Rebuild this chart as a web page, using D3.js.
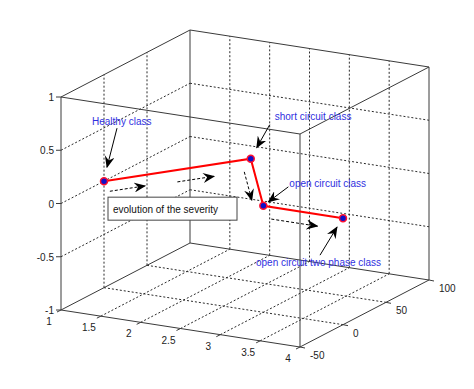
<!DOCTYPE html>
<html>
<head>
<meta charset="utf-8">
<script src="https://cdn.jsdelivr.net/npm/d3@7"></script>
<style>
  body { margin: 0; background: #fff; }
  svg { display: block; font-family: "Liberation Sans", Arial, sans-serif; }
</style>
</head>
<body>
<div id="chart"></div>
<script>
// class centres in the 3-D feature space
const classNames = ["Healthy class", "short circuit class", "open circuit class", "open circuit two phase class"];
const xVals = [1, 2, 3, 4];
const yVals = [0, 78, 0, 0];
const zVals = [0, 0, 0, 0];

const xTicks = [1, 1.5, 2, 2.5, 3, 3.5, 4];
const yTicks = [-50, 0, 50, 100];
const zTicks = [-1, -0.5, 0, 0.5, 1];
const xTickLabels = ["1", "1.5", "2", "2.5", "3", "3.5", "4"];
const yTickLabels = ["-50", "0", "50", "100"];
const zTickLabels = ["-1", "-0.5", "0", "0.5", "1"];

const boxText = "evolution of the severity";

const W = 474, H = 389;

// axis scales -> screen vectors of the projected box
const xs = d3.scaleLinear().domain([1, 4]).range([0, 1]);
const ys = d3.scaleLinear().domain([-50, 100]).range([0, 1]);
const zs = d3.scaleLinear().domain([-1, 1]).range([0, 1]);
const origin = [61, 310];
const vx = [239, 37], vy = [129, -67], vz = [0, -213];

function proj(x, y, z) {
  const a = xs(x), b = ys(y), c = zs(z);
  return [origin[0] + a * vx[0] + b * vy[0] + c * vz[0],
          origin[1] + a * vx[1] + b * vy[1] + c * vz[1]];
}

const svg = d3.select("#chart").append("svg")
  .attr("width", W).attr("height", H);

const defs = svg.append("defs");
defs.append("marker")
  .attr("id", "head")
  .attr("viewBox", "0 0 12 10")
  .attr("refX", 11).attr("refY", 5)
  .attr("markerWidth", 12).attr("markerHeight", 10)
  .attr("markerUnits", "userSpaceOnUse")
  .attr("orient", "auto")
  .append("path")
  .attr("d", "M0,0 L12,5 L0,10 L4,5 Z")
  .attr("fill", "#000");

const line = d3.line();
const [x0, x1] = xs.domain(), [y0, y1] = ys.domain(), [z0, z1] = zs.domain();

// grid on the three back planes
const grid = svg.append("g")
  .attr("fill", "none").attr("stroke", "#2a2a2a").attr("stroke-width", 1)
  .attr("stroke-dasharray", "2,2");
const gridSegs = [];
yTicks.filter(t => t > y0 && t < y1).forEach(t => {
  gridSegs.push([proj(x0, t, z0), proj(x0, t, z1)]);   // left wall
  gridSegs.push([proj(x0, t, z0), proj(x1, t, z0)]);   // floor
});
zTicks.filter(t => t > z0 && t < z1).forEach(t => {
  gridSegs.push([proj(x0, y0, t), proj(x0, y1, t)]);   // left wall
  gridSegs.push([proj(x0, y1, t), proj(x1, y1, t)]);   // back wall
});
xTicks.filter(t => t > x0 && t < x1).forEach(t => {
  gridSegs.push([proj(t, y1, z0), proj(t, y1, z1)]);   // back wall
  gridSegs.push([proj(t, y0, z0), proj(t, y1, z0)]);   // floor
});
grid.selectAll("path").data(gridSegs).enter().append("path").attr("d", line);

// box edges
const corners = [];
[x0, x1].forEach(x => [y0, y1].forEach(y => [z0, z1].forEach(z => corners.push([x, y, z]))));
const edges = [];
corners.forEach((a, i) => corners.forEach((b, j) => {
  if (j > i && a.filter((v, k) => v !== b[k]).length === 1) edges.push([proj(...a), proj(...b)]);
}));
svg.append("g").attr("fill", "none").attr("stroke", "#3a3a3a").attr("stroke-width", 1)
  .selectAll("path").data(edges).enter().append("path").attr("d", line);

// ticks and labels
const axes = svg.append("g").attr("font-size", 10).attr("fill", "#222");
const tickG = svg.append("g").attr("stroke", "#3a3a3a").attr("stroke-width", 1);
zTicks.forEach((t, i) => {
  const p = proj(x0, y0, t);
  tickG.append("line").attr("x1", p[0] - 5).attr("y1", p[1]).attr("x2", p[0]).attr("y2", p[1]);
  axes.append("text").attr("x", p[0] - 7).attr("y", p[1] + 4).attr("text-anchor", "end").text(zTickLabels[i]);
});
xTicks.forEach((t, i) => {
  const p = proj(t, y0, z0);
  tickG.append("line").attr("x1", p[0]).attr("y1", p[1]).attr("x2", p[0] - 4).attr("y2", p[1] + 2);
  axes.append("text").attr("x", p[0] - 12).attr("y", p[1] + 15).attr("text-anchor", "middle").text(xTickLabels[i]);
});
yTicks.forEach((t, i) => {
  const p = proj(x1, t, z0);
  tickG.append("line").attr("x1", p[0]).attr("y1", p[1]).attr("x2", p[0] + 5).attr("y2", p[1] + 1);
  axes.append("text").attr("x", p[0] + 10).attr("y", p[1] + 12).attr("text-anchor", "start").text(yTickLabels[i]);
});

// data path
const pts = xVals.map((x, i) => proj(x, yVals[i], zVals[i]));
svg.append("path").attr("d", line(pts))
  .attr("fill", "none").attr("stroke", "#ff0000").attr("stroke-width", 2);
svg.append("g").selectAll("circle").data(pts).enter().append("circle")
  .attr("cx", d => d[0]).attr("cy", d => d[1]).attr("r", 3.5)
  .attr("fill", "#1010c8").attr("stroke", "#ff1030").attr("stroke-width", 1.5);

// class labels with arrows (offsets relative to each point)
const labelOff = [[-12, -56], [24, -39], [26, -19], [-87, 48]];
const arrowFrom = [[13, -53], [19, -34], [25, -19], [-23, 37]];
const arrowTo = [[3, -14], [6, -11], [5, -4], [-6, 9]];
const ann = svg.append("g");
pts.forEach((p, i) => {
  ann.append("path")
    .attr("d", line([[p[0] + arrowFrom[i][0], p[1] + arrowFrom[i][1]], [p[0] + arrowTo[i][0], p[1] + arrowTo[i][1]]]))
    .attr("stroke", "#000").attr("stroke-width", 1).attr("marker-end", "url(#head)");
  ann.append("text")
    .attr("x", p[0] + labelOff[i][0]).attr("y", p[1] + labelOff[i][1])
    .attr("font-size", 10).attr("fill", "#3030e0")
    .text(classNames[i]);
});

// dashed "evolution" arrows drawn alongside segments
const evoSeg = [0, 0, 1, 2];
const evoT0 = [0.04, 0.5, 0.28, 0.1];
const evoT1 = [0.28, 0.75, 0.88, 0.68];
const evoOff = [[0, 11], [0, 12], [-10, 0], [0, 12]];
evoSeg.forEach((s, i) => {
  const a = pts[s], b = pts[s + 1];
  const at = t => [a[0] + (b[0] - a[0]) * t + evoOff[i][0], a[1] + (b[1] - a[1]) * t + evoOff[i][1]];
  ann.append("path").attr("d", line([at(evoT0[i]), at(evoT1[i])]))
    .attr("fill", "none").attr("stroke", "#000").attr("stroke-width", 1)
    .attr("stroke-dasharray", "3,2").attr("marker-end", "url(#head)");
});

// text box
const bx = pts[0][0] + 4, by = pts[0][1] + 16;
ann.append("rect").attr("x", bx).attr("y", by).attr("width", 129).attr("height", 23)
  .attr("fill", "#fff").attr("stroke", "#444").attr("stroke-width", 1);
ann.append("text").attr("x", bx + 5).attr("y", by + 15.5)
  .attr("font-size", 10).attr("fill", "#111").text(boxText);
</script>
</body>
</html>
